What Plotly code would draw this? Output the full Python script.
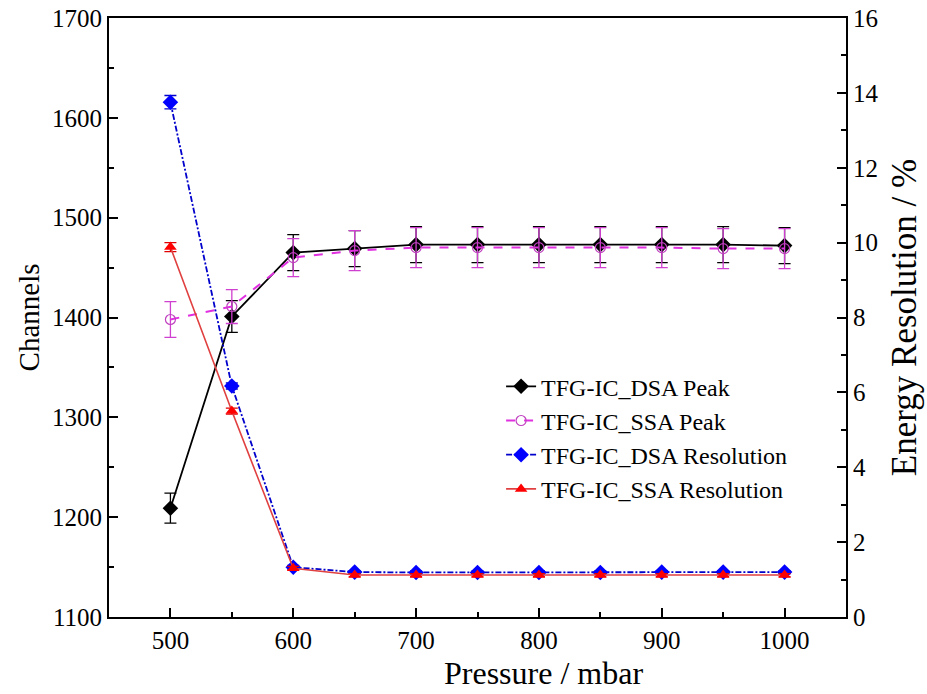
import plotly.graph_objects as go

pressure = [500, 550, 600, 650, 700, 750, 800, 850, 900, 950, 1000]

dsa_peak = [1209, 1401, 1465, 1469, 1473, 1473, 1473, 1473, 1473, 1473, 1472]
dsa_peak_err = [15, 16, 18, 18, 18, 18, 18, 18, 18, 18, 18]

ssa_peak = [1398, 1411, 1460, 1467, 1470, 1470, 1470, 1470, 1470, 1469, 1469]
ssa_peak_err = [18, 17, 19, 20, 20, 20, 20, 20, 20, 20, 20]

dsa_res = [13.75, 6.17, 1.33, 1.20, 1.19, 1.19, 1.19, 1.19, 1.20, 1.20, 1.20]
dsa_res_err = [0.18, 0.08, 0.05, 0.04, 0.04, 0.04, 0.04, 0.04, 0.04, 0.04, 0.04]

ssa_res = [9.88, 5.50, 1.30, 1.12, 1.12, 1.12, 1.12, 1.12, 1.12, 1.12, 1.12]
ssa_res_err = [0.12, 0.08, 0.05, 0.04, 0.04, 0.04, 0.04, 0.04, 0.04, 0.04, 0.04]

FONT = "Liberation Serif"

fig = go.Figure()

fig.add_trace(go.Scatter(
    x=pressure, y=dsa_peak, name="TFG-IC_DSA Peak", mode="lines+markers",
    line=dict(color="black", width=1.8),
    marker=dict(symbol="diamond", size=12, color="black"),
    error_y=dict(type="data", array=dsa_peak_err, color="black", thickness=1.3, width=6),
))
fig.add_trace(go.Scatter(
    x=pressure, y=ssa_peak, name="TFG-IC_SSA Peak", mode="lines+markers",
    line=dict(color="#e030e0", width=2, dash="dash"),
    marker=dict(symbol="circle-open", size=10, color="#c040c0", line=dict(width=1.2)),
    error_y=dict(type="data", array=ssa_peak_err, color="#d040d0", thickness=1.3, width=6),
))
fig.add_trace(go.Scatter(
    x=pressure, y=dsa_res, name="TFG-IC_DSA Resolution", mode="lines+markers", yaxis="y2",
    line=dict(color="#0000cc", width=1.8, dash="6px,2px,2px,2px"),
    marker=dict(symbol="diamond", size=12, color="#0000ff"),
    error_y=dict(type="data", array=dsa_res_err, color="#0000cc", thickness=1.3, width=6),
))
fig.add_trace(go.Scatter(
    x=pressure, y=ssa_res, name="TFG-IC_SSA Resolution", mode="lines+markers", yaxis="y2",
    line=dict(color="#e04040", width=1.6),
    marker=dict(symbol="triangle-up", size=11, color="#ff0000"),
    error_y=dict(type="data", array=ssa_res_err, color="#e00000", thickness=1.3, width=6),
))

axis_common = dict(
    showgrid=False, zeroline=False, showline=True, linecolor="black", linewidth=2,
    ticks="inside", ticklen=9, tickwidth=2, tickcolor="black", automargin=False,
    ticklabeloverflow="allow",
    tickfont=dict(family=FONT, size=25, color="black"),
)

fig.update_layout(
    width=927, height=694,
    margin=dict(l=109, r=81, t=18, b=77),
    paper_bgcolor="white", plot_bgcolor="white",
    font=dict(family=FONT, color="black"),
    showlegend=True,
    legend=dict(
        x=0.532, y=0.422, xanchor="left", yanchor="top",
        font=dict(family=FONT, size=24, color="black"),
        bgcolor="rgba(0,0,0,0)", borderwidth=0, tracegroupgap=0,
    ),
    xaxis=dict(
        **axis_common, range=[450, 1050], dtick=100, mirror=True,
        minor=dict(ticks="inside", ticklen=5, tickwidth=2, dtick=50, tickcolor="black"),
    ),
    yaxis=dict(
        **axis_common, range=[1100, 1700], dtick=100,
        minor=dict(ticks="inside", ticklen=5, tickwidth=2, dtick=50, tickcolor="black"),
        title=dict(text="Channels", font=dict(family=FONT, size=29), standoff=4),
    ),
    yaxis2=dict(
        **axis_common, range=[0, 16], dtick=2, overlaying="y", side="right",
        minor=dict(ticks="inside", ticklen=5, tickwidth=2, dtick=1, tickcolor="black"),
        title=dict(text="Energy Resolution / %", font=dict(family=FONT, size=35), standoff=14),
    ),
    annotations=[dict(
        text="Pressure / mbar", xref="paper", yref="paper", x=0.589, y=-0.1269,
        xanchor="center", yanchor="bottom", showarrow=False,
        font=dict(family=FONT, size=32, color="black"),
    )],
)

fig.write_html(
    "out.html",
    config={"displayModeBar": False},
    post_script="document.body.style.margin='0';document.body.style.overflow='hidden';",
)
